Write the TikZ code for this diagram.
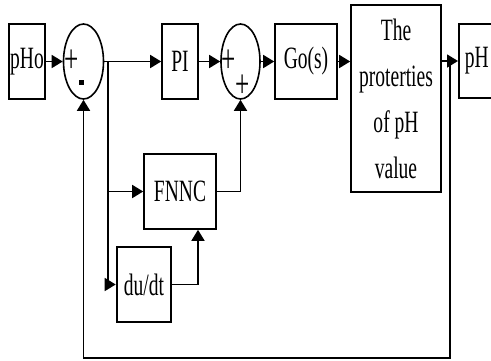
\documentclass[tikz,border=0pt]{standalone}
\usepackage{fontspec}
\setmainfont[FakeStretch=0.63]{Liberation Serif}
\usetikzlibrary{shapes.geometric,arrows.meta}
\begin{document}
\begin{tikzpicture}[x=1pt,y=-1pt,
  blk/.style={draw,line width=1.6pt,inner sep=0pt,font=\fontsize{31}{46}\selectfont,align=center},
  sumnode/.style={draw,ellipse,line width=1.6pt,inner sep=0pt,minimum width=40pt,minimum height=75pt},
  sgn/.style={font=\fontsize{40}{40}\selectfont,inner sep=0pt},
  conn/.style={line width=1.6pt},
  arr/.style={conn,-{Triangle[length=11pt,width=13pt]}}]
\useasboundingbox (0,0) rectangle (491,360);
\clip (0,0) rectangle (491,360);
\node[blk,minimum width=36pt,minimum height=75pt] (pho) at (27,61.5) {pHo};
\node[sumnode] (s1) at (83.5,61.5) {};
\node[sgn] (p1) at (72,61) {+};
\node[draw,fill,inner sep=0pt,minimum width=4pt,minimum height=4pt] (m1) at (81,82) {};
\node[blk,minimum width=36pt,minimum height=75pt] (pi) at (180,61.5) {PI};
\node[sumnode,minimum width=39pt] (s2) at (240.5,61.5) {};
\node[sgn] (p2) at (229,61) {+};
\node[sgn] (p3) at (243,86) {+};
\node[blk,minimum width=62pt,minimum height=75pt] (go) at (306,61.5) {Go(s)};
\node[blk,minimum width=90pt,minimum height=187pt] (prop) at (396,98.5) {The\\proterties\\of pH\\value};
\node[blk,minimum width=36pt,minimum height=74pt,anchor=west] (ph) at (458,61) {pH};
\node[blk,minimum width=72pt,minimum height=75pt] (fnnc) at (180,191.5) {FNNC};
\node[blk,line width=2.6pt,minimum width=54pt,minimum height=75pt] (dudt) at (144,284.5) {du/dt};
\coordinate (b1) at (108,61.5);
\coordinate (b2) at (450,61.5);
\draw[arr] (pho) -- (s1);
\draw[arr] (s1) -- (pi);
\draw[arr] (pi) -- (s2);
\draw[arr] (s2) -- (go);
\draw[arr] (go.east) -- (prop.west |- go.east);
\draw[arr] (prop.east |- ph.west) -- (ph.west);
\draw[arr] (b1) |- (fnnc.west);
\draw[arr] (b1) |- (dudt.west);
\draw[arr] (fnnc.east) -| (s2.south);
\draw[arr] (dudt.east) -| (fnnc.south -| 198,0);
\draw[arr] (b2) |- (83.5,358) -- (s1.south);
\end{tikzpicture}
\end{document}
